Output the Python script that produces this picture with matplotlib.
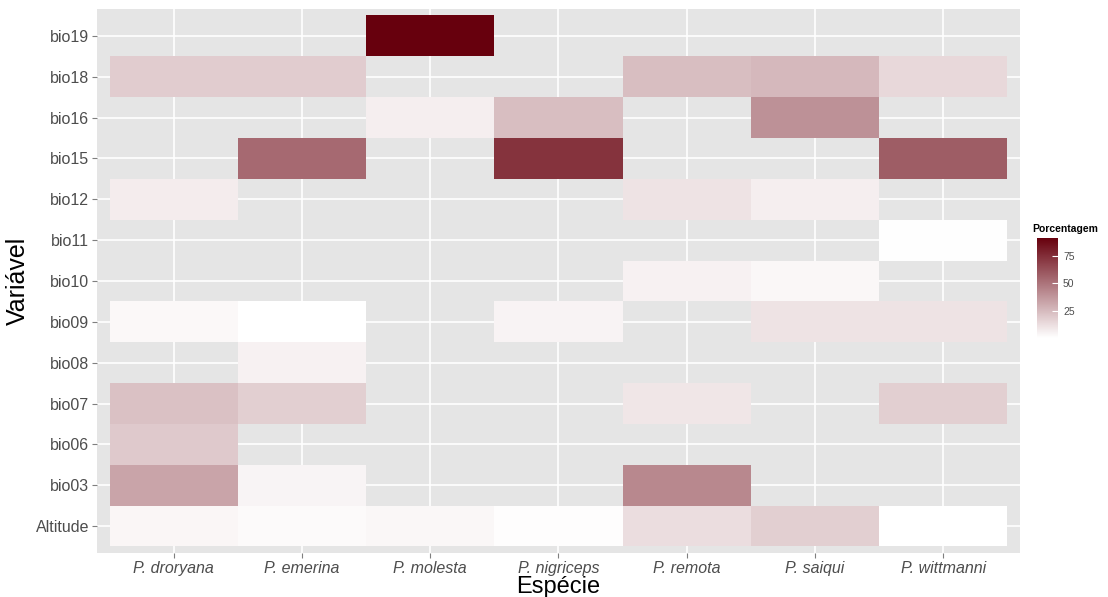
import numpy as np
import matplotlib.pyplot as plt
from matplotlib.colors import LinearSegmentedColormap

plt.rcParams['font.family'] = ['Liberation Sans', 'DejaVu Sans']

especies = ['P. droryana', 'P. emerina', 'P. molesta', 'P. nigriceps',
            'P. remota', 'P. saiqui', 'P. wittmanni']
variaveis = ['Altitude', 'bio03', 'bio06', 'bio07', 'bio08', 'bio09', 'bio10',
             'bio11', 'bio12', 'bio15', 'bio16', 'bio18', 'bio19']

nan = np.nan
# porcentagem de contribuicao, uma linha por variavel (Altitude -> bio19)
altitude = [4.5, 3, 4, 2, 13, 18, 1]
bio03 = [33, 5, nan, nan, 43, nan, nan]
bio06 = [20, nan, nan, nan, nan, nan, nan]
bio07 = [23, 18, nan, nan, 10, nan, 18]
bio08 = [nan, 6, nan, nan, nan, nan, nan]
bio09 = [3.5, 1, nan, 5.5, nan, 11, 11]
bio10 = [nan, nan, nan, nan, 6, 4, nan]
bio11 = [nan, nan, nan, nan, nan, nan, 1.5]
bio12 = [8, nan, nan, nan, 11, 7, nan]
bio15 = [nan, 54, nan, 73, nan, nan, 58]
bio16 = [nan, nan, 7, 24, nan, 40, nan]
bio18 = [19, 19, nan, nan, 24, 26, 15]
bio19 = [nan, nan, 91, nan, nan, nan, nan]

valores = np.ma.masked_invalid(np.array([altitude, bio03, bio06, bio07, bio08,
                                         bio09, bio10, bio11, bio12, bio15,
                                         bio16, bio18, bio19]))

cmap = LinearSegmentedColormap.from_list('porc', ['#FFFFFF', '#67000D'])

fig = plt.figure(figsize=(11.08, 5.97), dpi=100)
ax = fig.add_axes([0.0875, 0.0737, 0.8331, 0.9113])
ax.set_facecolor('#E5E5E5')

xe = np.arange(len(especies) + 1) - 0.5
ye = np.arange(len(variaveis) + 1) - 0.5
mesh = ax.pcolormesh(xe, ye, valores, cmap=cmap, vmin=1, vmax=91, zorder=2)

ax.set_xlim(-0.6, len(especies) - 0.4)
ax.set_ylim(-0.66, len(variaveis) - 0.34)
ax.set_xticks(range(len(especies)))
ax.set_xticklabels(especies, fontstyle='italic')
ax.set_yticks(range(len(variaveis)))
ax.set_yticklabels(variaveis)
ax.grid(True, color='white', linewidth=1.2, zorder=1)
ax.set_axisbelow(True)
for s in ax.spines.values():
    s.set_visible(False)
ax.tick_params(colors='#7F7F7F', labelcolor='#4D4D4D', labelsize=11.5,
               length=3.5, width=0.8, pad=2)
ax.set_xlabel('Espécie', fontsize=17, labelpad=0)
ax.set_ylabel('Variável', fontsize=18, labelpad=4)

# legenda de cores
cax = fig.add_axes([0.936, 0.434, 0.019, 0.1675])
cb = fig.colorbar(mesh, cax=cax, ticks=[25, 50, 75])
cb.outline.set_visible(False)
cax.tick_params(length=4, width=0.8, colors='white', labelcolor='#4D4D4D',
                labelsize=7.5, direction='in')
cax.set_title('Porcentagem', fontsize=7.5, fontweight='bold', loc='left',
              pad=4, x=-0.25)

fig.savefig('out.png', dpi=100)
